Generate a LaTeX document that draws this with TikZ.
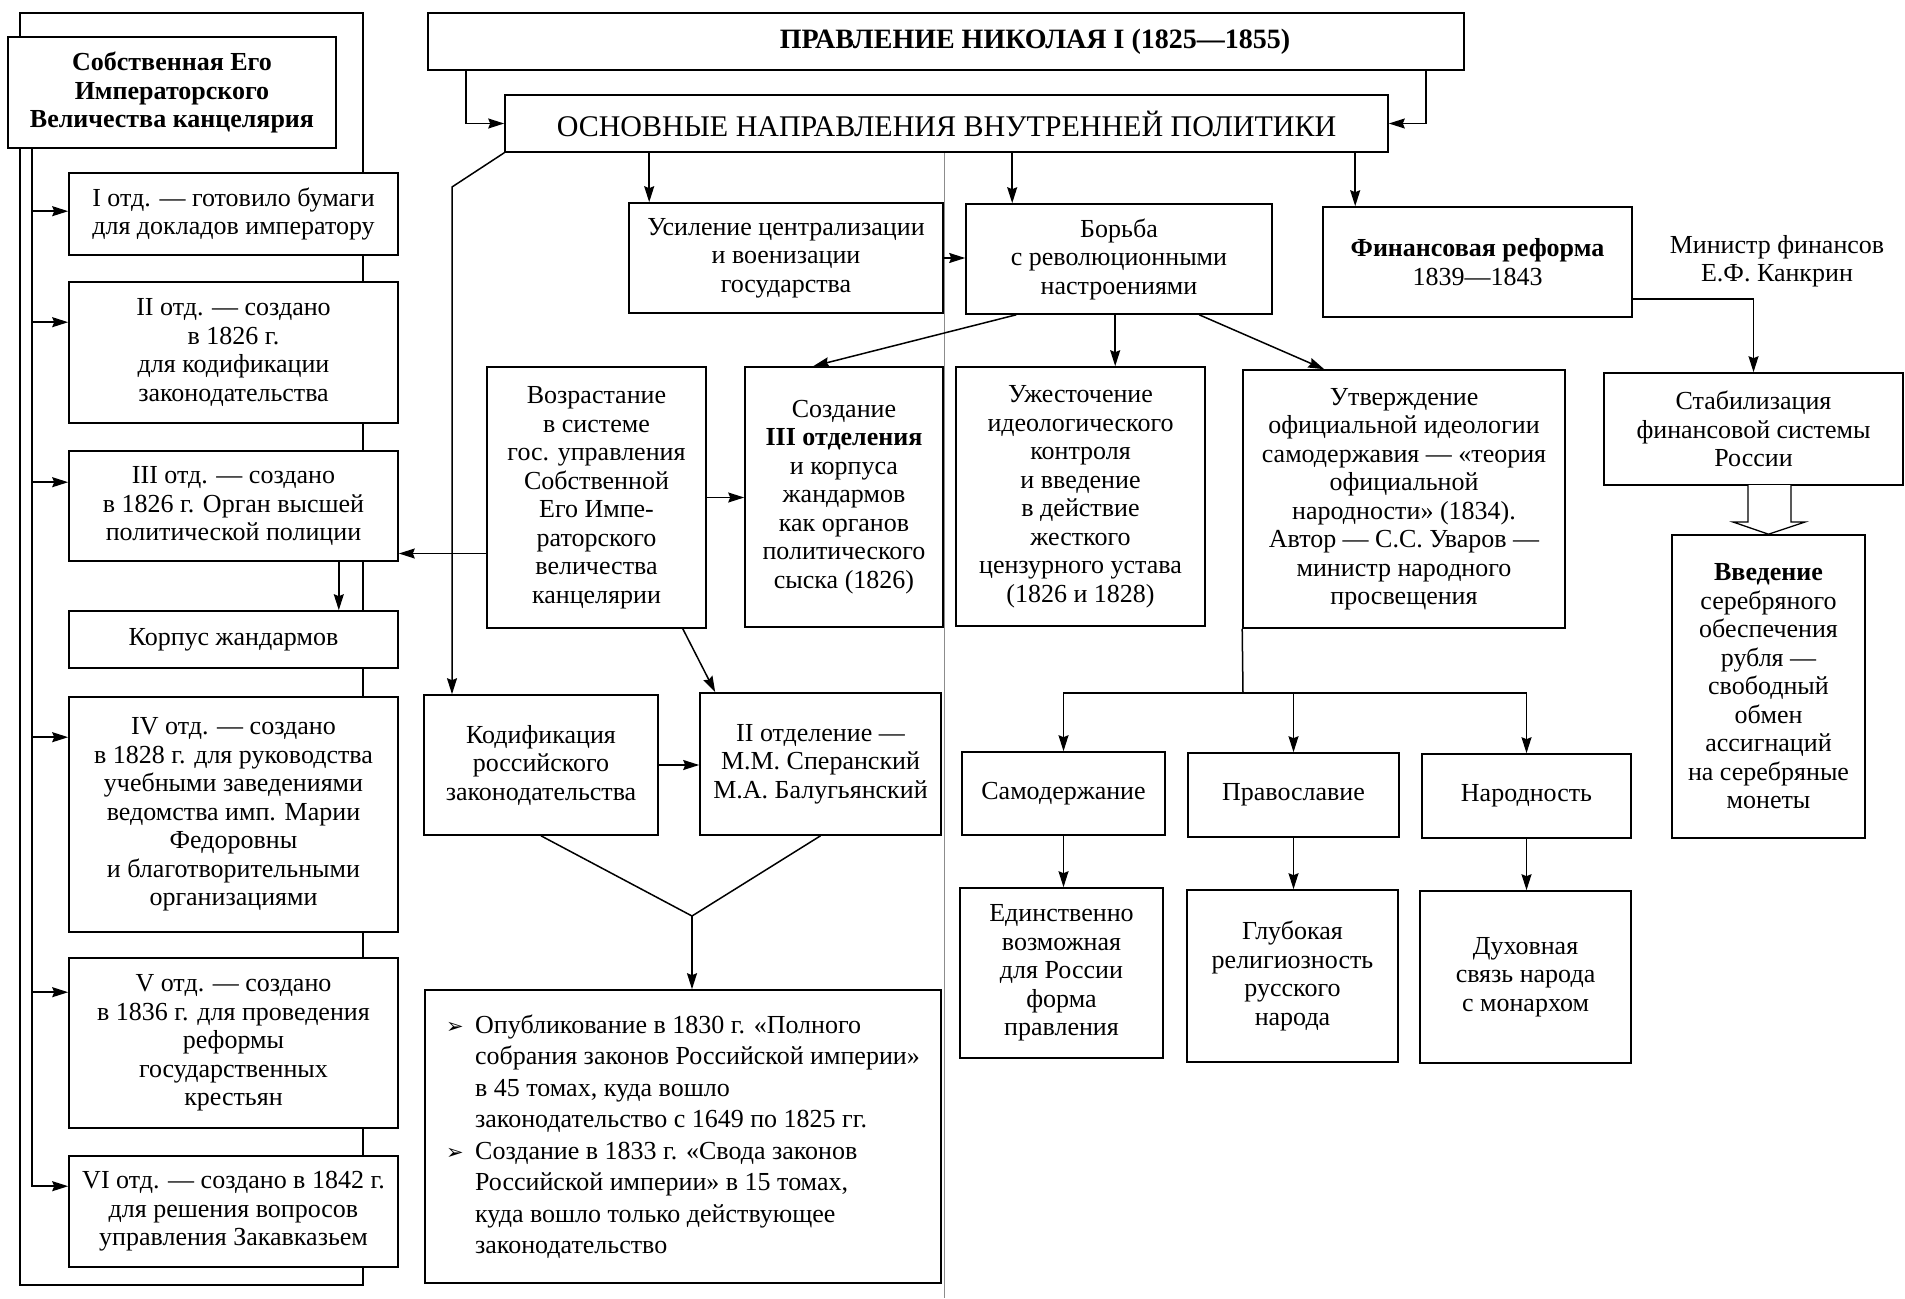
\documentclass[tikz,border=0pt]{standalone}
\usepackage{fontspec}
\setmainfont{Liberation Serif}
\newfontfamily\dejavu{DejaVu Sans}
\usetikzlibrary{arrows.meta,calc}
\newcommand{\fsz}{\fontsize{26}{28.5}\selectfont}
\newcommand{\rbox}[7][]{\node[box,minimum width={#5-#3},minimum height={#6-#4},#1] (#2) at ({(#3+#5)/2},{(#4+#6)/2}) {#7};}
\newcommand{\bl}{\makebox[29pt][l]{\dejavu\fontsize{21}{21}\selectfont ➢}}
\newcommand{\blc}{\hspace*{29pt}}
\tikzset{
  box/.style={draw, line width=1.6pt, fill=white, align=center, inner sep=2pt, font=\fsz},
  arr/.style={line width=1.5pt, -{Stealth[length=16pt,width=10pt,inset=2pt]}},
  ln/.style={line width=1.5pt},
}
\begin{document}
\begin{tikzpicture}[x=1pt,y=-1pt]
\useasboundingbox (0,0) rectangle (1905,1298);
\fill[white] (0,0) rectangle (1905,1298);
% outer frame of the left column and page fold
\draw[line width=1.6pt] (20,13) rectangle (363,1285);
\draw[black!45, line width=1pt] (944,152) -- (944,1298);

% left column
\rbox[font=\fsz\bfseries]{sob}{8}{37}{336}{148}{Собственная Его\\Императорского\\Величества канцелярия}
\rbox{d1}{69}{173}{398}{255}{I отд. — готовило бумаги\\для докладов императору}
\rbox{d2}{69}{282}{398}{423}{II отд. — создано\\в 1826 г.\\для кодификации\\законодательства}
\rbox{d3}{69}{451}{398}{561}{III отд. — создано\\в 1826 г. Орган высшей\\политической полиции}
\rbox{korp}{69}{611}{398}{668}{Корпус жандармов}
\rbox{d4}{69}{697}{398}{932}{IV отд. — создано\\в 1828 г. для руководства\\учебными заведениями\\ведомства имп. Марии\\Федоровны\\и благотворительными\\организациями}
\rbox{d5}{69}{958}{398}{1128}{V отд. — создано\\в 1836 г. для проведения\\реформы\\государственных\\крестьян}
\rbox{d6}{69}{1156}{398}{1267}{VI отд. — создано в 1842 г.\\для решения вопросов\\управления Закавказьем}

% top
\rbox[font=\fontsize{28}{30}\selectfont\bfseries]{title}{428}{13}{1464}{70}{\hspace*{178pt}ПРАВЛЕНИЕ НИКОЛАЯ I (1825—1855)}
\rbox[font=\fontsize{30}{33}\selectfont]{osn}{505}{95}{1388}{152}{ОСНОВНЫЕ НАПРАВЛЕНИЯ ВНУТРЕННЕЙ ПОЛИТИКИ}

\rbox{usil}{629}{203}{943}{313}{Усиление централизации\\и военизации\\государства}
\rbox{borba}{966}{204}{1272}{314}{Борьба\\с революционными\\настроениями}
\rbox{fin}{1323}{207}{1632}{317}{\textbf{Финансовая реформа}\\1839—1843}
\node[font=\fsz, align=center] (min) at (1777,261) {Министр финансов\\Е.Ф. Канкрин};

\rbox{vozr}{487}{367}{706}{628}{Возрастание\\в системе\\гос. управления\\Собственной\\Его Импе-\\раторского\\величества\\канцелярии}
\rbox{sozd}{745}{367}{943}{627}{Создание\\\textbf{III отделения}\\и корпуса\\жандармов\\как органов\\политического\\сыска (1826)}
\rbox{uzh}{956}{367}{1205}{626}{Ужесточение\\идеологического\\контроля\\и введение\\в действие\\жесткого\\цензурного устава\\(1826 и 1828)}
\rbox{utv}{1243}{370}{1565}{628}{Утверждение\\официальной идеологии\\самодержавия — «теория\\официальной\\народности» (1834).\\Автор — С.С. Уваров —\\министр народного\\просвещения}
\rbox{stab}{1604}{373}{1903}{485}{Стабилизация\\финансовой системы\\России}
\rbox{vved}{1672}{535}{1865}{838}{\textbf{Введение}\\серебряного\\обеспечения\\рубля —\\свободный\\обмен\\ассигнаций\\на серебряные\\монеты}

\rbox{kod}{424}{695}{658}{835}{Кодификация\\российского\\законодательства}
\rbox{otd2}{700}{693}{941}{835}{II отделение —\\М.М. Сперанский\\М.А. Балугьянский}
\rbox[align=left, font=\fontsize{26}{31.5}\selectfont]{bul}{425}{990}{941}{1283}{\bl Опубликование в 1830 г. «Полного\\\blc собрания законов Российской империи»\\\blc в 45 томах, куда вошло\\\blc законодательство с 1649 по 1825 гг.\\\bl Создание в 1833 г. «Свода законов\\\blc Российской империи» в 15 томах,\\\blc куда вошло только действующее\\\blc законодательство}

\rbox{sam}{962}{752}{1165}{835}{Самодержание}
\rbox{prav}{1188}{753}{1399}{837}{Православие}
\rbox{nar}{1422}{754}{1631}{838}{Народность}
\rbox{ed}{960}{888}{1163}{1058}{Единственно\\возможная\\для России\\форма\\правления}
\rbox{glub}{1187}{890}{1398}{1062}{Глубокая\\религиозность\\русского\\народа}
\rbox{duh}{1420}{891}{1631}{1063}{Духовная\\связь народа\\с монархом}

% connectors: left column
\coordinate (inl) at (32,148);
\draw[arr] (inl) |- ([yshift=-31pt]d6.north west);
\foreach \n/\o in {d1/39,d2/41,d3/32,d4/41,d5/35}
  \draw[arr] ([yshift=-\o pt]\n.north west -| inl) -- ([yshift=-\o pt]\n.north west);
\draw[arr] ([xshift=-60pt]d3.south east) -- ([xshift=-60pt]d3.south east |- korp.north);

% connectors: top
\draw[arr] ([xshift=39pt]title.south west) |- (osn.west);
\draw[arr] ([xshift=-39pt]title.south east) |- (osn.east);
\coordinate (bend) at (452,187);
\draw[arr] (osn.south west) -- (bend) -- (bend |- kod.north);
\draw[arr] ([xshift=21pt]usil.north west |- osn.south) -- ([xshift=21pt]usil.north west);
\draw[arr] ([xshift=47pt]borba.north west |- osn.south) -- ([xshift=47pt]borba.north west);
\draw[arr] ([xshift=33pt]fin.north west |- osn.south) -- ([xshift=33pt]fin.north west);
\draw[arr] (usil.east) -- (usil.east -| borba.west);

% connectors: middle
\draw[arr] ([xshift=51pt]borba.south west) -- ([xshift=69pt]sozd.north west);
\draw[arr] ([xshift=150pt]borba.south west) -- ([xshift=150pt]borba.south west |- uzh.north);
\draw[arr] ([xshift=234pt]borba.south west) -- ([xshift=82pt]utv.north west);
\draw[arr] (vozr.east) -- (vozr.east -| sozd.west);
\draw[arr] ([yshift=-56pt]vozr.west) -- ([yshift=-56pt]vozr.west -| d3.east);
\draw[arr] ([xshift=-24pt]vozr.south east) -- ([xshift=16pt]otd2.north west);
\draw[arr] (kod.east) -- (kod.east -| otd2.west);
\coordinate (vm) at (692,916);
\draw[ln] (kod.south) -- (vm) -- (otd2.south);
\draw[arr] (vm) -- (vm |- bul.north);

% connectors: ideology
\coordinate (hb) at (1243,693);
\draw[ln] (utv.south west) -- (hb);
\draw[arr] (hb) -| (sam.north);
\draw[arr] (hb) -| (nar.north);
\draw[arr] (prav.north |- hb) -- (prav.north);
\draw[arr] (sam.south) -- (sam.south |- ed.north);
\draw[arr] (prav.south) -- (prav.south |- glub.north);
\draw[arr] (nar.south) -- (nar.south |- duh.north);

% connectors: finance
\draw[arr] ([yshift=-37pt]fin.east) -| (stab.north);
\draw[line width=1.3pt, fill=white] (1748,485) -- (1748,522) -- (1733,522) -- (vved.north) -- (1805,522) -- (1791,522) -- (1791,485);
\end{tikzpicture}
\end{document}
